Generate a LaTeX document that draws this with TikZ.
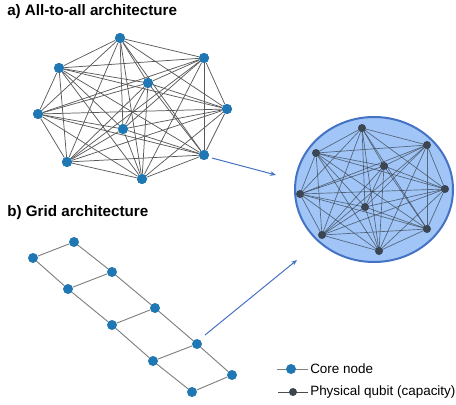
\documentclass[tikz,border=0pt]{standalone}
\usepackage{fontspec}
\setmainfont{Liberation Sans}
\usepackage{tikz}
\usetikzlibrary{arrows.meta, shapes.geometric}

\definecolor{coreblue}{RGB}{31,119,180}
\definecolor{qubitgray}{RGB}{60,70,82}
\definecolor{poolfill}{RGB}{160,197,246}
\definecolor{pooledge}{RGB}{68,114,196}

\tikzset{
  core/.style = {circle, fill=coreblue, inner sep=0pt, minimum size=7.5pt},
  qubit/.style = {circle, fill=qubitgray, inner sep=0pt, minimum size=6pt},
  aedge/.style = {draw=black!65, line width=0.55pt},
  qedge/.style = {draw=qubitgray, opacity=0.75, line width=0.5pt},
  gedge/.style = {draw=black!50, line width=0.7pt},
  map/.style = {draw=pooledge, line width=0.75pt, -{Stealth[length=4.5pt, width=3.5pt]}},
  title/.style = {anchor=base west, inner sep=0pt, font=\bfseries\fontsize{11.4}{13}\selectfont},
  key/.style = {anchor=base west, inner sep=0pt, font=\fontsize{10.1}{12}\selectfont}
}

\begin{document}
\begin{tikzpicture}[x=0.75pt, y=-0.75pt]
\useasboundingbox (0,0) rectangle (456,404);

% a) all-to-all
\node[title] (ta) at (7,15) {a) All-to-all architecture};
\foreach \n/\x/\y in {1/120/38, 2/204/58, 3/59/68, 4/148/83, 5/38/114,
                      6/227/109, 7/123/129, 8/204/155, 9/67/162, 10/142/179}
  \node[core] (a\n) at (\x,\y) {};
\foreach \i in {1,...,9}{
  \pgfmathtruncatemacro\k{\i+1}
  \foreach \j in {\k,...,10}
    \draw[aedge] (a\i) -- (a\j);
}
\foreach \n in {1,...,10}
  \node[core] at (a\n) {};

% capacity pool
\node[ellipse, draw=pooledge, fill=poolfill, line width=1.5pt,
      minimum width=118.5pt, minimum height=108.75pt] (pool) at (374,189.5) {};
\foreach \n/\x/\y in {1/362/128, 2/427/145, 3/316/153, 4/384/166, 5/300/194,
                      6/445/189, 7/365/207, 8/427/229, 9/322/235, 10/379/251}
  \node[qubit] (q\n) at (\x,\y) {};
\foreach \i in {1,...,9}{
  \pgfmathtruncatemacro\k{\i+1}
  \foreach \j in {\k,...,10}
    \draw[qedge] (q\i.center) -- (q\j.center);
}

% b) grid
\node[title] (tb) at (7,216) {b) Grid architecture};
\node[core] (g1) at (74,242) {};
\node[core] (g2) at (33,258) {};
\node[core] (g3) at (112,272) {};
\node[core] (g4) at (68,289) {};
\node[core] (g5) at (155,308) {};
\node[core] (g6) at (112,325) {};
\node[core] (g7) at (197,344) {};
\node[core] (g8) at (153,361) {};
\node[core] (g9) at (232,375) {};
\node[core] (g10) at (192,392) {};
\draw[gedge] (g1) -- (g2);
\draw[gedge] (g3) -- (g4);
\draw[gedge] (g5) -- (g6);
\draw[gedge] (g7) -- (g8);
\draw[gedge] (g9) -- (g10);
\draw[gedge] (g1) -- (g3);
\draw[gedge] (g3) -- (g5);
\draw[gedge] (g5) -- (g7);
\draw[gedge] (g7) -- (g9);
\draw[gedge] (g2) -- (g4);
\draw[gedge] (g4) -- (g6);
\draw[gedge] (g6) -- (g8);
\draw[gedge] (g8) -- (g10);

% mapping arrows
\coordinate (m1) at (276,175);
\coordinate (m2) at (297,260);
\draw[map] (a8) ++(8,3) coordinate (s1) -- (m1);
\draw[map] (g7) ++(8,-9) coordinate (s2) -- (m2);

% legend
\coordinate (k1a) at (277,369);
\coordinate (k1b) at (308,369);
\coordinate (k2a) at (278,392);
\coordinate (k2b) at (308,392);
\draw[gedge] (k1a) -- (k1b);
\draw[draw=black!70, line width=0.7pt] (k2a) -- (k2b);
\node[core] (k1) at (291,369) {};
\node[qubit] (k2) at (293,392) {};
\node[key] (l1) at (310,373) {Core node};
\node[key] (l2) at (310,395) {Physical qubit (capacity)};
\end{tikzpicture}
\end{document}
